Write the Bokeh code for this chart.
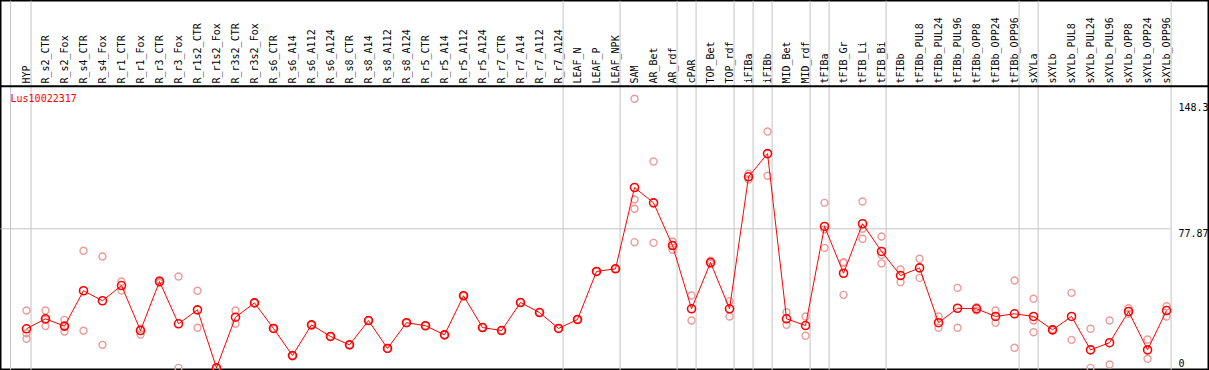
import math
from bokeh.plotting import figure
from bokeh.models import Range1d, Span, ColumnDataSource
from bokeh.core.properties import value
from bokeh.embed import file_html
from bokeh.resources import INLINE

title = "Lus10022317"

samples = ["HYP", "R_s2_CTR", "R_s2_Fox", "R_s4_CTR", "R_s4_Fox", "R_r1_CTR", "R_r1_Fox",
           "R_r3_CTR", "R_r3_Fox", "R_r1s2_CTR", "R_r1s2_Fox", "R_r3s2_CTR", "R_r3s2_Fox",
           "R_s6_CTR", "R_s6_A14", "R_s6_A112", "R_s6_A124", "R_s8_CTR", "R_s8_A14",
           "R_s8_A112", "R_s8_A124", "R_r5_CTR", "R_r5_A14", "R_r5_A112", "R_r5_A124",
           "R_r7_CTR", "R_r7_A14", "R_r7_A112", "R_r7_A124", "LEAF_N", "LEAF_P", "LEAF_NPK",
           "SAM", "AR_Bet", "AR_rdf", "cPAR", "TOP_Bet", "TOP_rdf", "iFIBa", "iFIBb",
           "MID_Bet", "MID_rdf", "tFIBa", "tFIB_Gr", "tFIB_Li", "tFIB_Bi", "tFIBb",
           "tFIBb_PUL8", "tFIBb_PUL24", "tFIBb_PUL96", "tFIBb_OPP8", "tFIBb_OPP24",
           "tFIBb_OPP96", "sXYLa", "sXYLb", "sXYLb_PUL8", "sXYLb_PUL24", "sXYLb_PUL96",
           "sXYLb_OPP8", "sXYLb_OPP24", "sXYLb_OPP96"]

means = [21.9, 27.5, 23.4, 43.2, 37.6, 46.1, 20.9, 48.4, 24.7, 32.5, 0.0, 28.4, 36.4,
         22.1, 6.9, 24.1, 17.6, 12.9, 26.5, 10.9, 25.3, 23.6, 18.5, 40.4, 22.6,
         20.9, 36.6, 31.0, 22.1, 27.1, 54.0, 55.5,
         101.0, 92.4, 68.5, 33.1, 59.0, 33.1, 107.0, 120.0,
         27.5, 23.7, 79.2, 53.0, 80.7, 65.2, 51.7,
         56.0, 25.3, 33.4, 33.1, 28.8, 30.3, 28.8, 21.3,
         28.8, 10.1, 14.1, 31.6, 10.1, 32.1]

replicates = [
    [32.1, 19.4, 16.3], [32.1, 23.4, 27.0], [26.9, 20.4, 23.0], [65.6, 20.8], [62.4, 12.9],
    [48.4, 43.3], [21.9, 18.7], [49.3, 47.5], [51.2, 0.0], [43.2, 22.5], [0.0, 0.0],
    [32.1, 24.7], [36.4, 36.4], [22.1, 22.1], [6.9, 6.9], [24.1, 24.1], [17.6, 17.6],
    [12.9, 12.9], [26.5, 26.5], [10.9, 10.9], [25.3, 25.3], [23.6, 23.6], [18.5, 18.5],
    [40.4, 40.4], [22.6, 22.6], [20.9, 20.9], [36.6, 36.6], [31.0, 31.0], [22.1, 22.1],
    [27.1, 27.1], [54.0, 54.0], [55.5, 55.5],
    [150.7, 94.3, 89.1, 70.4], [115.6, 70.0], [70.8, 66.1, 68.5], [40.5, 26.5],
    [60.0, 58.3], [37.4, 28.8], [108.7, 105.5], [132.4, 107.6],
    [31.2, 24.1], [28.8, 18.0], [92.4, 77.5, 67.2], [59.2, 58.9, 40.9],
    [93.2, 77.9, 72.3], [73.6, 63.3, 58.5], [55.1, 48.0],
    [61.1, 50.4], [28.8, 22.5], [44.8, 22.5], [34.0, 32.1], [32.1, 25.3], [48.9, 11.3],
    [38.7, 26.5, 20.0], [21.6, 21.0],
    [42.0, 15.7], [21.9, 0.0], [26.5, 1.9], [33.4, 30.3], [15.9, 5.1], [34.5, 28.8]]

tick_values = [148.3, 77.87]
tick_labels = ["148.3", "77.87"]
zero_label = "0"

# indices after which a group separator is drawn
group_ends = [0, 28, 31, 34, 35, 37, 38, 39, 41, 42, 45, 52, 53, 60]

idx = list(range(len(samples)))

W, H = 1209, 370
p = figure(width=W, height=H, output_backend="svg", toolbar_location=None,
           x_range=Range1d(-1.368, 62.26), y_range=Range1d(-1.456, 205.71),
           x_axis_location=None, y_axis_location=None,
           min_border=0, min_border_left=0, min_border_right=0,
           min_border_top=0, min_border_bottom=0,
           outline_line_color="black", outline_line_width=2,
           background_fill_color="white", border_fill_color="white")
p.extra_y_ranges = {"px": Range1d(370, 0)}
p.xgrid.visible = False
p.ygrid.visible = False

mono = value("DejaVu Sans Mono")

# group separators
p.add_layout(Span(location=-0.84, dimension="height", line_color="#c4c4c4",
                  line_width=1, level="underlay"))
for k in group_ends:
    p.add_layout(Span(location=k + 0.24, dimension="height", line_color="#c4c4c4",
                      line_width=1, level="underlay"))

# header separator
p.add_layout(Span(location=85.7, dimension="width", y_range_name="px",
                  line_color="black", line_width=2))

# horizontal reference line
p.segment(x0=[-1.4], y0=[tick_values[1]], x1=[60.21], y1=[tick_values[1]],
          line_color="#c4c4c4", line_width=1)

# header labels
p.text(x=idx, y=[83] * len(idx), text=samples, angle=math.pi / 2,
       text_align="left", text_baseline="middle", text_font=mono,
       text_font_size="10px", text_color="black", y_range_name="px")

# title
p.text(x=[-0.84], y=[98], text=[title], text_align="left", text_baseline="middle",
       text_font=mono, text_font_size="10px", text_color="#ff0000", y_range_name="px")

# tick labels
p.text(x=[60.63] * len(tick_values), y=tick_values, text=tick_labels,
       text_align="left", text_baseline="top", text_font=mono,
       text_font_size="10px", text_color="black")
p.text(x=[60.63], y=[0.6], text=[zero_label], text_align="left", text_baseline="bottom",
       text_font=mono, text_font_size="10px", text_color="black")

# replicates
rx, ry = [], []
for i, vals in enumerate(replicates):
    for v in vals:
        rx.append(i)
        ry.append(v)
p.scatter(x=rx, y=ry, marker="circle", size=7, line_color="#ee9a9a",
          line_width=1.4, fill_color=None)

# mean line and markers
src = ColumnDataSource(dict(x=idx, y=means))
p.line(x="x", y="y", source=src, line_color="#ff0000", line_width=1)
p.scatter(x="x", y="y", source=src, marker="circle", size=8, line_color="#ff0000",
          line_width=1.6, fill_color=None)

open("out.html", "w").write(file_html(p, INLINE))
